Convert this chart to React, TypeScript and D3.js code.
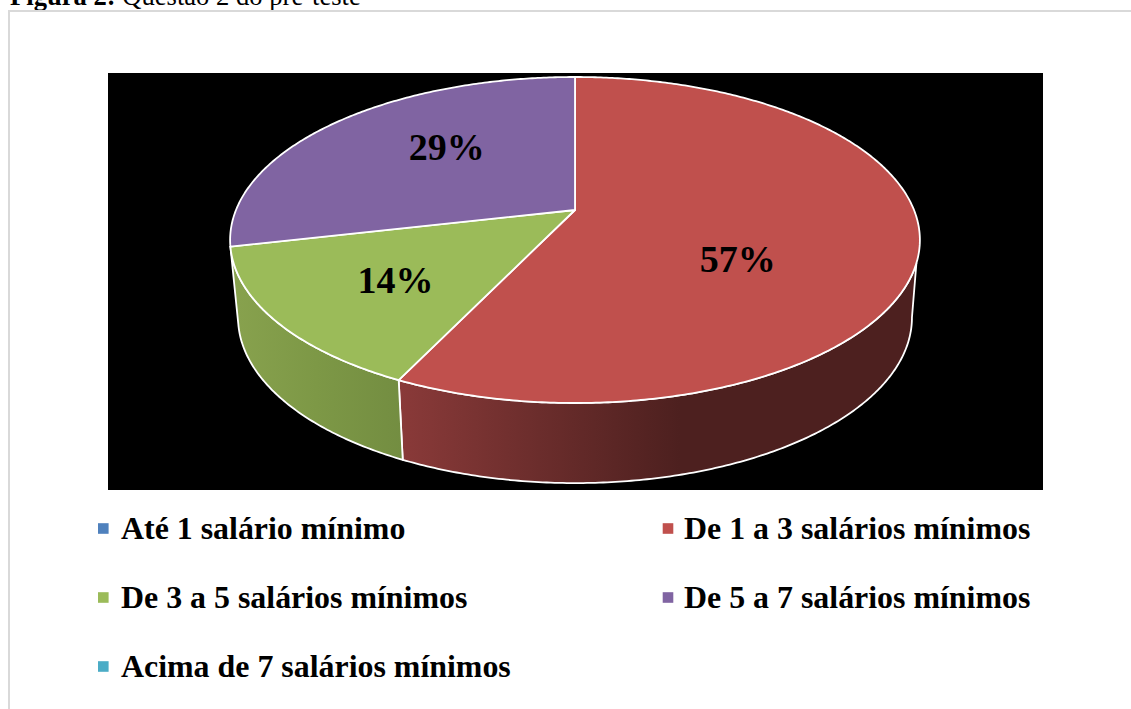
import { useMemo } from "react";
import * as d3 from "d3";

const WIDTH = 1131;
const HEIGHT = 709;

// Answers per category, percentages are worked out from these
const categories = [
  "Até 1 salário mínimo",
  "De 1 a 3 salários mínimos",
  "De 3 a 5 salários mínimos",
  "De 5 a 7 salários mínimos",
  "Acima de 7 salários mínimos",
];
const answers = [0, 4, 1, 2, 0];
const colors = ["#4f81bd", "#c0504d", "#9bbb59", "#8064a2", "#4bacc6"];

// Label nudges from the slice's mid radius, Excel places these by hand
const labelNudgeX = [0, -6, -39, -3, 0];
const labelNudgeY = [0, 44, 31, -4, 0];

// Side wall shading, left to right
const wallStops: Record<number, [string, string, string]> = {
  1: ["#8a3a39", "#6b2d2c", "#4d201f"],
  2: ["#88a24e", "#7d9846", "#738d41"],
};

// Perspective of the tilted disc
const CX = 575;
const CY = 210;
const A = 339;
const B = 157.5;
const K = 0.184;
const WALL_Y = 287;
const WALL_B = 160;
const WALL_SCALE = 0.977;
const WALL_TOP_START = (108.5 * Math.PI) / 180;
const WALL_BOTTOM_START = (100.6 * Math.PI) / 180;

type Pt = [number, number];

// angle is clockwise from the top of the pie
const top = (angle: number, r = 1): Pt => {
  const u = r * Math.sin(angle);
  const v = -r * Math.cos(angle);
  const w = 1 - K * v;
  return [CX + (A * u) / w, CY + (B * v) / w];
};

const bottom = (angle: number): Pt => {
  const u = Math.sin(angle);
  const v = -Math.cos(angle);
  const w = 1 - K * v;
  return [CX + (WALL_SCALE * A * u) / w, WALL_Y + (WALL_B * v) / w];
};

const sweep = (a0: number, a1: number) => {
  const n = Math.max(2, Math.ceil((a1 - a0) / 0.01));
  return d3.range(n + 1).map((i) => a0 + ((a1 - a0) * i) / n);
};

export default function App() {
  const slices = useMemo(
    () => d3.pie<number>().sort(null)(answers),
    []
  );
  const total = d3.sum(answers);
  const line = d3.line();

  const legendX = d3.scalePoint<number>().domain([0, 1]).range([121, 684]);
  const legendY = d3.scalePoint<number>().domain([0, 1, 2]).range([539, 677]);

  return (
    <svg
      width={WIDTH}
      height={HEIGHT}
      style={{ position: "absolute", left: 0, top: 0, display: "block" }}
      fontFamily="'Liberation Serif', serif"
    >
      <rect width={WIDTH} height={HEIGHT} fill="#fff" />
      <text x={10} y={5} fontSize={26.6} fill="#000">
        <tspan fontWeight="bold">Figura 2:</tspan> Questão 2 do pré-teste
      </text>
      <path d={`M9 ${HEIGHT}V11H${WIDTH}`} fill="none" stroke="#d9d9d9" strokeWidth={2} />
      <rect x={108} y={73} width={935} height={417} fill="#000" />

      <defs>
        {slices.map((s, i) => {
          const stops = wallStops[i];
          if (!stops) return null;
          const x1 = top(s.endAngle)[0];
          const x2 = i === 1 ? 680 : bottom(s.startAngle)[0];
          return (
            <linearGradient key={i} id={`wall${i}`} gradientUnits="userSpaceOnUse" x1={x1} x2={x2} y1={0} y2={0}>
              {stops.map((c, j) => (
                <stop key={j} offset={j / 2} stopColor={c} />
              ))}
            </linearGradient>
          );
        })}
      </defs>

      {slices.map((s, i) => {
        if (!wallStops[i]) return null;
        const upper = sweep(Math.max(s.startAngle, WALL_TOP_START), s.endAngle).map((a) => top(a));
        const lower = sweep(Math.max(s.startAngle, WALL_BOTTOM_START), s.endAngle).map((a) => bottom(a));
        return (
          <path
            key={i}
            d={line([...upper, ...lower.reverse()]) + "Z"}
            fill={`url(#wall${i})`}
            stroke="#fff"
            strokeWidth={1.8}
            strokeLinejoin="round"
          />
        );
      })}

      {slices.map((s, i) => {
        if (s.value === 0) return null;
        const pts: Pt[] = [[CX, CY], ...sweep(s.startAngle, s.endAngle).map((a) => top(a))];
        return (
          <path
            key={i}
            d={line(pts) + "Z"}
            fill={colors[i]}
            stroke="#fff"
            strokeWidth={1.8}
            strokeLinejoin="round"
          />
        );
      })}

      {slices.map((s, i) => {
        if (s.value === 0) return null;
        const [x, y] = top((s.startAngle + s.endAngle) / 2, 0.5);
        return (
          <text
            key={i}
            x={x + labelNudgeX[i]}
            y={y + labelNudgeY[i]}
            textAnchor="middle"
            fontWeight="bold"
            fontSize={38}
            fill="#000"
          >
            {Math.round((s.value / total) * 100)}%
          </text>
        );
      })}

      {categories.map((name, i) => {
        const x = legendX(i % 2) as number;
        const y = legendY(Math.floor(i / 2)) as number;
        return (
          <g key={name}>
            <rect x={x - (i % 2 ? 21.3 : 23)} y={y - 15.8} width={10.6} height={10.6} fill={colors[i]} />
            <text x={x} y={y} fontWeight="bold" fontSize={31.9} fill="#000">
              {name}
            </text>
          </g>
        );
      })}
    </svg>
  );
}
